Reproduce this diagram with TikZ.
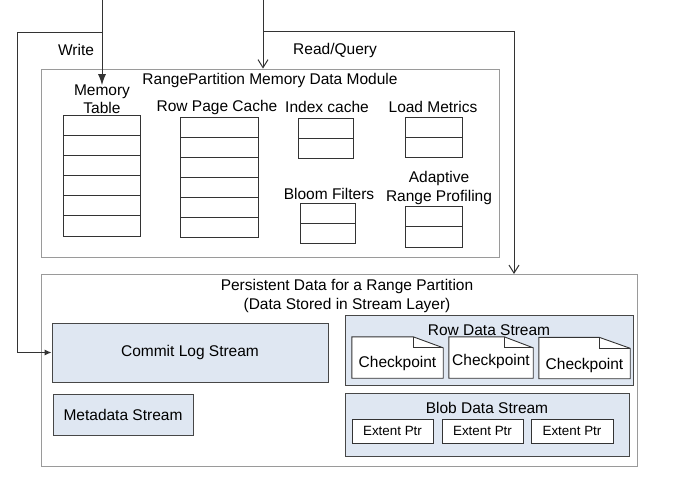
\documentclass[tikz,border=0pt]{standalone}
\usepackage{fontspec}
\setmainfont{Liberation Sans}
\usetikzlibrary{arrows.meta,calc}
\definecolor{lblue}{HTML}{DFE7F2}
\definecolor{dk}{HTML}{333333}
\definecolor{gborder}{HTML}{9A9A9A}
\tikzset{
  every node/.style={font=\fontsize{15.5}{18.5}\selectfont, inner sep=0pt},
  txt/.style={align=center},
  outerbox/.style={draw=gborder, line width=0.9pt, fill=white},
  tbl/.style={draw=dk, line width=1pt, fill=white},
  streambox/.style={draw=dk!90, line width=0.9pt, fill=lblue},
  wbox/.style={draw=dk, line width=0.9pt, fill=white},
  conn/.style={draw=dk, line width=1pt},
  rows/.style={path picture={
     \pgfmathtruncatemacro\nrm{#1-1}
     \foreach \i in {1,...,\nrm}{
       \draw[dk, line width=1pt]
         ($(path picture bounding box.north west)!\i/#1!(path picture bounding box.south west)$) --
         ($(path picture bounding box.north east)!\i/#1!(path picture bounding box.south east)$);}}},
  small/.style={font=\fontsize{13.4}{16}\selectfont}
}
\begin{document}
\begin{tikzpicture}[x=1pt,y=-1pt]
\useasboundingbox (0,0) rectangle (687,480);

% ---- memory module ----
\node[outerbox, minimum width=458pt, minimum height=188pt] (mem) at (270,163) {};
\node (memtitle) at (270,80) {RangePartition Memory Data Module};

\node[txt] (mtlab) at (102,99) {Memory\\Table};
\node[tbl, rows=6, minimum width=77pt, minimum height=121pt] (mt) at (101.5,175.5) {};

\node (rpclab) at (217,107) {Row Page Cache};
\node[tbl, rows=6, minimum width=78pt, minimum height=120pt] (rpc) at (219,177) {};

\node (iclab) at (327,107) {Index cache};
\node[tbl, rows=2, minimum width=55pt, minimum height=40pt] (ic) at (325.5,138) {};

\node (lmlab) at (433,107) {Load Metrics};
\node[tbl, rows=2, minimum width=57pt, minimum height=40pt] (lm) at (433.5,137) {};

\node (bflab) at (329,194) {Bloom Filters};
\node[tbl, rows=2, minimum width=55pt, minimum height=40pt] (bf) at (327.5,223) {};

\node[txt] (arplab) at (439,188) {Adaptive\\Range Profiling};
\node[tbl, rows=2, minimum width=57pt, minimum height=41pt] (arp) at (433.5,226.5) {};

% ---- persistent data ----
\node[outerbox, minimum width=596pt, minimum height=192pt] (pers) at (339,370) {};
\node[txt] (perstitle) at (347,296) {Persistent Data for a Range Partition\\(Data Stored in Stream Layer)};

\node[streambox, minimum width=276pt, minimum height=59pt] (commit) at (190,352.5) {\raisebox{-1.5pt}{Commit Log Stream}};
\node[streambox, minimum width=140pt, minimum height=41pt] (meta) at (123,414.5) {\raisebox{-1pt}{Metadata Stream}};

\node[streambox, minimum width=288pt, minimum height=70pt] (rds) at (489,350) {};
\node (rdstitle) at (489,330) {Row Data Stream};

% checkpoints
\foreach \n/\cx/\cy/\w/\fx in {cp1/397.5/357.5/91/30, cp2/491/357.5/84/29, cp3/584.5/358/91/31}{
  \node[minimum width=\w pt, minimum height=41pt] (\n) at (\cx,\cy) {};
  \draw[wbox] (\n.south west) -- (\n.north west) -- ([xshift=-\fx pt]\n.north east)
     -- ([yshift=-11pt]\n.north east) -- (\n.south east) -- cycle;
  \draw[dk, line width=0.9pt] ([xshift=-\fx pt]\n.north east) |- ([yshift=-11pt]\n.north east);
}
\node (cp1t) at (397.5,363) {Checkpoint};
\node (cp2t) at (491,361) {Checkpoint};
\node (cp3t) at (584.5,365) {Checkpoint};

\node[streambox, minimum width=284pt, minimum height=63pt] (bds) at (487,424.5) {};
\node (bdstitle) at (487,408) {Blob Data Stream};
\node[wbox, small, minimum width=81pt, minimum height=24pt] (ep1) at (392.5,431) {Extent Ptr};
\node[wbox, small, minimum width=81pt, minimum height=24pt] (ep2) at (482.5,431) {Extent Ptr};
\node[wbox, small, minimum width=82pt, minimum height=24pt] (ep3) at (572,431) {Extent Ptr};

% ---- connectors ----
\coordinate (wtop) at (102,0);
\coordinate (wsplit) at (102,32);
\coordinate (wcorner) at (17,352.5);
\coordinate (rtop) at (263,0);
\coordinate (rsplit) at (263,31);
\coordinate (rend) at (514,274);

\node (writelab) at (76,50) {Write};
\node (readlab) at (335,50) {Read/Query};

\draw[conn, -{Latex[length=11pt,width=8pt]}] (wtop) -- ([yshift=-1pt]mtlab.north -| wtop);
\draw[conn, -{Latex[length=7pt,width=6pt]}] (wsplit) -| (wcorner) -- (commit.west);
\draw[conn, -{Straight Barb[length=8pt,width=10pt]}] (rtop) -- (mem.north -| rtop);
\draw[conn, -{Straight Barb[length=8pt,width=10pt]}] (rsplit) -| (rend);
\end{tikzpicture}
\end{document}
